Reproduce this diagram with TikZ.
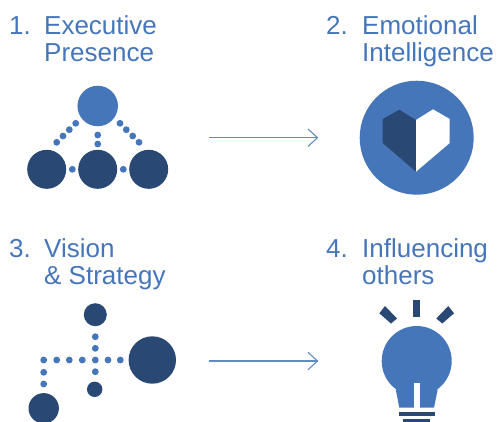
\documentclass[tikz,border=0pt]{standalone}
\usepackage{fontspec}
\setmainfont{Liberation Sans}
\definecolor{midblue}{HTML}{4676BA}
\definecolor{darkblue}{HTML}{2A4874}
\begin{document}
\begin{tikzpicture}[x=1bp,y=-1bp,
  lbl/.style={anchor=base west,inner sep=0pt,text=midblue,font=\fontsize{26bp}{27bp}\selectfont},
  dot/.style={fill=midblue,circle,inner sep=0pt,minimum size=6.8bp},
  dark/.style={fill=darkblue,circle,inner sep=0pt},
  mid/.style={fill=midblue,circle,inner sep=0pt},
  conn/.style={draw=midblue!85,line width=1.1bp},
  chev/.style={draw=midblue!85,line width=1.1bp,line join=miter}]
\useasboundingbox (0,0) rectangle (497,421);
\clip (0,0) rectangle (497,421);
% labels
\node[lbl] (n1) at (9,34) {1.};
\node[lbl] (t1a) at (44,34) {Executive};
\node[lbl] (t1b) at (44,61) {Presence};
\node[lbl] (n2) at (326,34) {2.};
\node[lbl] (t2a) at (362,34) {Emotional};
\node[lbl] (t2b) at (362,61) {Intelligence};
\node[lbl] (n3) at (9,257) {3.};
\node[lbl] (t3a) at (44,257) {Vision};
\node[lbl] (t3b) at (44,284) {\& Strategy};
\node[lbl] (n4) at (326,257) {4.};
\node[lbl] (t4a) at (362,257) {Influencing};
\node[lbl] (t4b) at (362,284) {others};
% icon 1
\node[mid,minimum size=40.5bp] (top) at (97.7,106) {};
\node[dark,minimum size=39bp] (b1) at (46.7,169.3) {};
\node[dark,minimum size=39bp] (b2) at (97.7,169.3) {};
\node[dark,minimum size=39bp] (b3) at (148.7,169.3) {};
\foreach \n/\x/\y in {a/75.7/123.3,b/69.3/129.7,c/63/136,d/56.7/142.3,e/120/123.3,f/126.3/129.7,g/132.7/136,h/139/142.3,i/97.7/135,j/97.7/144,k/72.3/169.3,l/123.3/169.3}
  \node[dot] (p\n) at (\x,\y) {};
% icon 2
\node[mid,minimum size=114bp] (disc) at (416.7,137.7) {};
\fill[darkblue] (416,120) -- (399.3,109.7) -- (382.7,119) -- (382.7,143) -- (416,171.7) -- cycle;
\fill[white] (416,120) -- (433,109.3) -- (449.7,119) -- (449.7,143) -- (416,171.7) -- cycle;
% arrows
\coordinate (a1s) at (209,137.7);
\coordinate (a1e) at (317.5,137.7);
\draw[conn] (a1s) -- (a1e);
\draw[chev] (308,129) -- (a1e) -- (308,146.4);
\coordinate (a2s) at (209,361);
\coordinate (a2e) at (317.5,361);
\draw[conn] (a2s) -- (a2e);
\draw[chev] (308,352.3) -- (a2e) -- (308,369.7);
% icon 3
\node[dark,minimum size=47.4bp] (v1) at (152.3,360) {};
\node[dark,minimum size=23bp] (v2) at (95.3,314.7) {};
\node[dark,minimum size=15.4bp] (v3) at (94.7,389.3) {};
\node[dark,minimum size=30.4bp] (v4) at (43.7,408.3) {};
\foreach \n/\x/\y in {a/43.7/360,b/56.7/360,c/69.3/360,d/82.3/360,e/95.3/360,f/108/360,g/120.3/360,h/95.3/336.7,i/95.3/348.3,j/95.3/371.7,k/43.7/372.3,l/43.7/384}
  \node[dot] (q\n) at (\x,\y) {};
% icon 4
\fill[midblue] (395.7,389.3) -- (399.3,407.7) -- (434,407.7) -- (437.7,389.3) -- cycle;
\node[mid,minimum size=70bp] (bulb) at (416.7,361) {};
\fill[white] (414,383) rectangle (420,408);
\fill[darkblue] (399,411.7) rectangle (435,416);
\fill[darkblue] (403,419) rectangle (430,423);
\fill[darkblue] (412.7,300) rectangle (420.3,317);
\fill[darkblue] (379.3,313.3) -- (385,306) -- (397,318.5) -- (391,323.5) -- cycle;
\fill[darkblue] (454,313.3) -- (448.3,306) -- (436.3,318.5) -- (442.3,323.5) -- cycle;
\end{tikzpicture}
\end{document}
